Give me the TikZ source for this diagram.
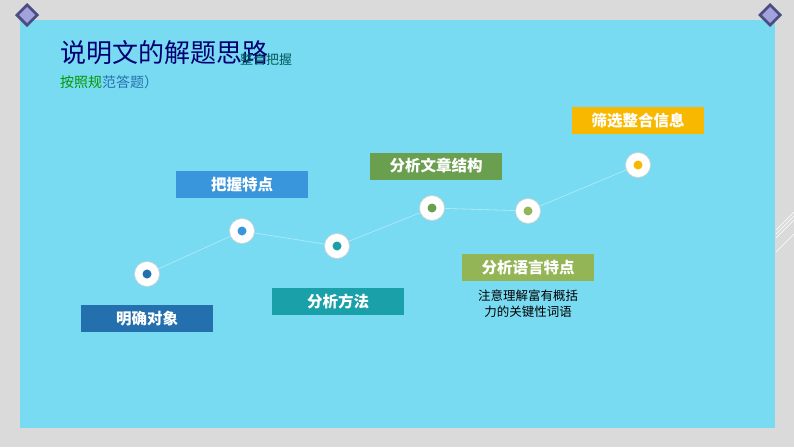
\documentclass[tikz,border=0pt]{standalone}
\usepackage{fontspec}
\newfontfamily\cjk{Noto Sans CJK SC}
\begin{document}
\begin{tikzpicture}[x=1pt,y=-1pt,
  lab/.style={minimum width=132pt,minimum height=27pt,inner sep=0pt,text=white,font=\cjk\bfseries\fontsize{15.5}{15.5}\selectfont},
  ring/.style={circle,fill=white,draw=gray!35,line width=0.6pt,minimum size=25pt,inner sep=0pt},
  dot/.style={circle,minimum size=9pt,inner sep=0pt}]
\definecolor{bg}{HTML}{DADADA}
\definecolor{panel}{HTML}{79DBF2}
\definecolor{c1}{HTML}{2470AE}
\definecolor{c2}{HTML}{3A96DC}
\definecolor{c3}{HTML}{1AA0A8}
\definecolor{c4}{HTML}{6A9F50}
\definecolor{c5}{HTML}{93B555}
\definecolor{c6}{HTML}{F9B800}
\useasboundingbox (0,0) rectangle (794,447);
\fill[bg] (0,0) rectangle (794,447);
\fill[panel] (20,20) rectangle (775,428);
\foreach \cx in {27,770}{
  \fill[blue!30!black!70] (\cx,3) -- (\cx+12,15) -- (\cx,27) -- (\cx-12,15) -- cycle;
  \fill[gray!55!blue!50] (\cx,7) -- (\cx+8,15) -- (\cx,23) -- (\cx-8,15) -- cycle;}
\foreach \d in {0,4,8}{\draw[white,line width=0.4pt] (776,230+\d) -- (794,212+\d);}
\draw[white,line width=0.4pt] (776,252) -- (794,234);
\node[anchor=west,inner sep=0pt,text=blue!45!black,font=\cjk\fontsize{26}{26}\selectfont] (title) at (60,53) {说明文的解题思路};
\node[anchor=west,inner sep=0pt,text=teal!70!black,font=\cjk\fontsize{13}{13}\selectfont] (t2) at (240,60) {整合把握};
\node[anchor=west,font=\cjk\fontsize{14}{14}\selectfont,inner sep=0pt] (sub) at (60,82) {\textcolor{green!60!black}{按照规}\textcolor{c1}{范答题）}};
\draw[white!45!panel,line width=0.6pt] (147,274) -- (242,231) -- (337,246) -- (432,208) -- (528,211) -- (638,165);
\foreach \n/\x/\y/\c in {r1/147/274/c1,r2/242/231/c2,r3/337/246/c3,r4/432/208/c4,r5/528/211/c5,r6/638/165/c6}{
  \node[ring] (\n) at (\x,\y) {};
  \node[dot,fill=\c] at (\n) {};}
\node[lab,fill=c1] (b1) at (147,318.5) {明确对象};
\node[lab,fill=c2] (b2) at (242,184.5) {把握特点};
\node[lab,fill=c3] (b3) at (338,301.5) {分析方法};
\node[lab,fill=c4] (b4) at (436,166) {分析文章结构};
\node[lab,fill=c5] (b5) at (528,267.5) {分析语言特点};
\node[lab,fill=c6] (b6) at (638,120.5) {筛选整合信息};
\node[font=\cjk\fontsize{12.5}{16}\selectfont,align=center] (desc) at (528,304) {注意理解富有概括\\力的关键性词语};
\end{tikzpicture}
\end{document}
